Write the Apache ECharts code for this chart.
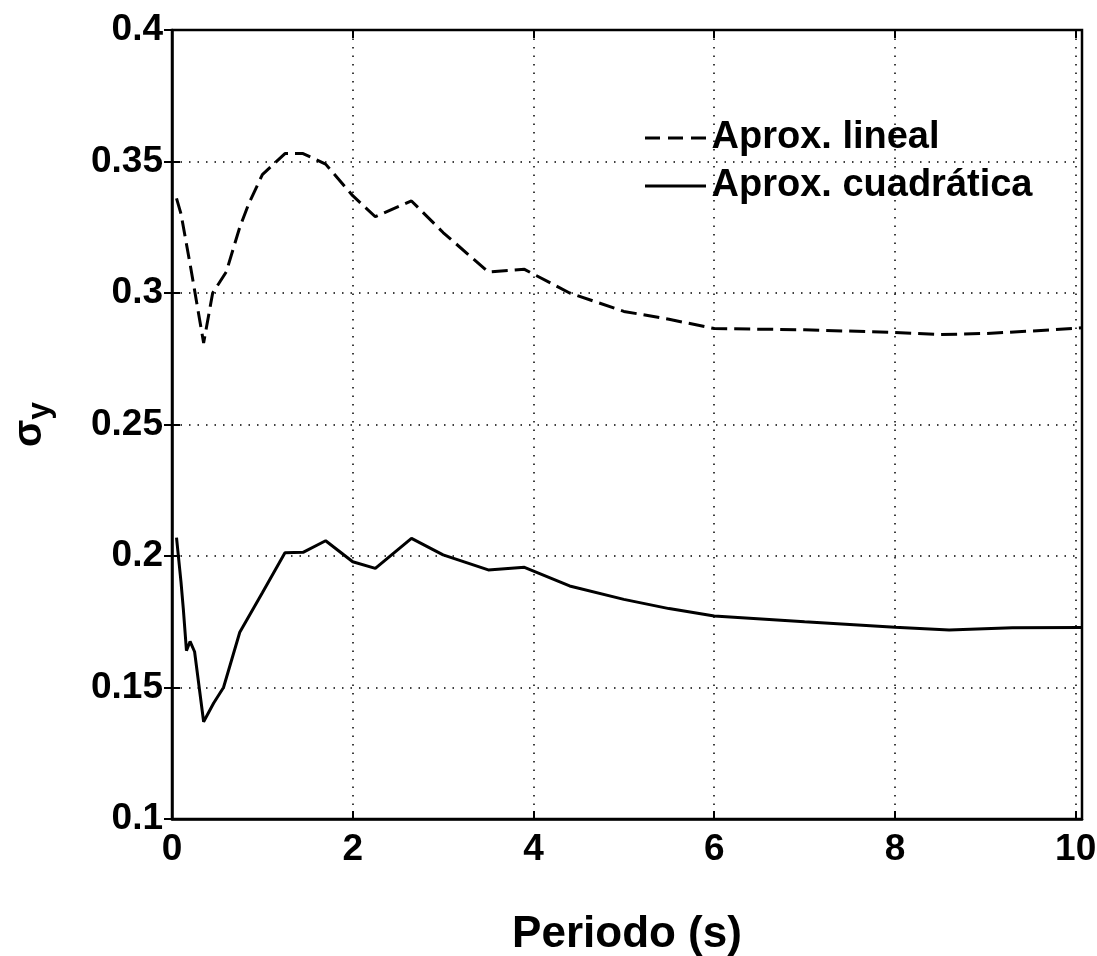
<!DOCTYPE html>
<html>
<head>
<meta charset="utf-8">
<script src="https://cdn.jsdelivr.net/npm/echarts@6/dist/echarts.min.js"></script>
<style>
  html, body { margin: 0; padding: 0; background: #fff; }
  #chart { width: 1097px; height: 956px; }
</style>
</head>
<body>
<div id="chart"></div>
<script>
// Period (s) samples and sigma_y values for each approximation
const linealPeriodo = [0.05, 0.1, 0.2, 0.35, 0.45, 0.6, 0.75, 0.85, 1.0, 1.25, 1.45, 1.7, 2.0, 2.25, 2.65, 3.0, 3.5, 3.9, 4.4, 5.0, 5.5, 6.0, 7.0, 8.0, 8.5, 9.0, 9.5, 10.07];
const linealSigma   = [0.336, 0.330, 0.311, 0.281, 0.300, 0.308, 0.325, 0.334, 0.345, 0.353, 0.353, 0.349, 0.337, 0.329, 0.335, 0.323, 0.308, 0.309, 0.300, 0.293, 0.290, 0.2865, 0.286, 0.285, 0.2842, 0.2846, 0.2855, 0.2868];

const cuadPeriodo = [0.05, 0.1, 0.125, 0.16, 0.2, 0.25, 0.35, 0.46, 0.57, 0.75, 1.0, 1.25, 1.45, 1.7, 2.0, 2.25, 2.65, 3.0, 3.5, 3.9, 4.4, 5.0, 5.5, 6.0, 7.0, 8.0, 8.6, 9.3, 10.07];
const cuadSigma   = [0.207, 0.190, 0.180, 0.164, 0.1675, 0.1636, 0.137, 0.144, 0.150, 0.171, 0.186, 0.2012, 0.2014, 0.2058, 0.1978, 0.1953, 0.2067, 0.2004, 0.1947, 0.1957, 0.1886, 0.1835, 0.180, 0.1772, 0.175, 0.1729, 0.1719, 0.1727, 0.1728];

const xTicks = [0, 2, 4, 6, 8, 10];
const yTicks = [0.1, 0.15, 0.2, 0.25, 0.3, 0.35, 0.4];
const seriesNames = ['Aprox. lineal', 'Aprox. cuadrática'];

const FONT = '"Liberation Sans", Arial, Helvetica, sans-serif';
const xMax = 10.07;

const zip = (xs, ys) => xs.map((x, i) => [x, ys[i]]);
const isTick = (list, v) => list.some(t => Math.abs(t - v) < 1e-9);

// Legend keys: three short dashes for the linear fit, one solid bar for the quadratic fit
const dashedKey = 'path://M0,0h15v3h-15z M23,0h15v3h-15z M46,0h15v3h-15z';
const solidKey = 'path://M0,0h61v3h-61z';

const gridLine = () => ({ show: true, lineStyle: { color: '#000', width: 1.5, type: [1.5, 7] } });
const innerTicks = () => ({ show: true, inside: true, length: 8, lineStyle: { color: '#000', width: 2 } });

// Tick-only axes that put the inward ticks on each side of the frame
const tickAxis = (extra) => Object.assign({
  type: 'value',
  axisLine: { show: false }, axisLabel: { show: false }, splitLine: { show: false },
  axisTick: innerTicks()
}, extra);

const chart = echarts.init(document.getElementById('chart'), null, { renderer: 'canvas' });
chart.setOption({
  backgroundColor: '#fff',
  animation: false,
  textStyle: { fontFamily: FONT },
  grid: {
    left: 172, top: 30, right: 15, bottom: 137,
    outerBoundsMode: 'none', containLabel: false,
    show: true, borderColor: '#000', borderWidth: 2.5, backgroundColor: 'transparent'
  },
  legend: {
    orient: 'vertical',
    left: 640, top: 114,
    itemWidth: 62, itemHeight: 3, itemGap: 10,
    itemStyle: { color: '#000', borderWidth: 0 },
    data: [
      { name: seriesNames[0], icon: dashedKey },
      { name: seriesNames[1], icon: solidKey }
    ],
    textStyle: { fontFamily: FONT, fontSize: 38, fontWeight: 'bold', color: '#000' }
  },
  xAxis: [{
    type: 'value', min: 0, max: xMax, interval: 2,
    name: 'Periodo (s)', nameLocation: 'middle', nameGap: 94,
    nameTextStyle: { fontFamily: FONT, fontSize: 44, fontWeight: 'bold', color: '#000' },
    axisLine: { show: true, lineStyle: { color: '#000', width: 2.5 } },
    axisTick: { show: false },
    axisLabel: {
      margin: 12, fontFamily: FONT, fontSize: 37, fontWeight: 'bold', color: '#000',
      formatter: v => isTick(xTicks, v) ? String(v) : ''
    },
    splitLine: gridLine()
  },
  tickAxis({ min: 0, max: xMax, interval: 2, position: 'top' }),
  tickAxis({ min: 0, max: xMax, interval: 2, position: 'bottom' })],
  yAxis: [{
    type: 'value', min: 0.1, max: 0.4, interval: 0.05,
    name: '{s|σ}{sub|y}', nameLocation: 'middle', nameGap: 116, nameRotate: 90,
    nameTextStyle: {
      rich: {
        s: { fontFamily: FONT, fontSize: 40, fontWeight: 'bold', color: '#000' },
        sub: { fontFamily: FONT, fontSize: 32, fontWeight: 'bold', color: '#000', padding: [20, 0, 0, 0] }
      }
    },
    axisLine: { show: true, lineStyle: { color: '#000', width: 2.5 } },
    axisTick: { show: false },
    axisLabel: {
      margin: 9, fontFamily: FONT, fontSize: 37, fontWeight: 'bold', color: '#000',
      formatter: v => isTick(yTicks, v) ? String(+v.toFixed(2)) : ''
    },
    splitLine: gridLine()
  },
  tickAxis({ min: 0.1, max: 0.4, interval: 0.05, position: 'right' }),
  tickAxis({ min: 0.1, max: 0.4, interval: 0.05, position: 'left' })],
  series: [{
    name: seriesNames[0], type: 'line', showSymbol: false, symbol: 'none',
    data: zip(linealPeriodo, linealSigma),
    lineStyle: { color: '#000', width: 3, type: [16, 7] },
    itemStyle: { color: '#000' }
  }, {
    name: seriesNames[1], type: 'line', showSymbol: false, symbol: 'none',
    data: zip(cuadPeriodo, cuadSigma),
    lineStyle: { color: '#000', width: 3, type: 'solid' },
    itemStyle: { color: '#000' }
  }]
});
</script>
</body>
</html>
